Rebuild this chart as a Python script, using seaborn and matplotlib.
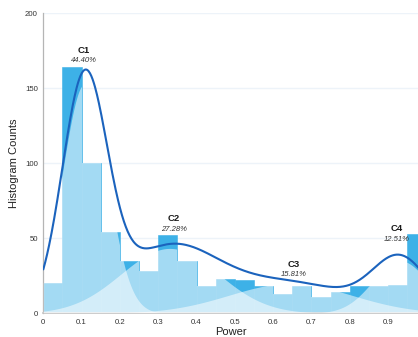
import numpy as np
import matplotlib
matplotlib.use("Agg")
import matplotlib.pyplot as plt
from matplotlib.patches import Polygon
import seaborn as sns

# Histogram of the power values (bin edges and counts per bin)
bin_edges = [0.0, 0.05, 0.1, 0.15, 0.2, 0.25, 0.3, 0.35, 0.4, 0.45, 0.5,
             0.55, 0.6, 0.65, 0.7, 0.75, 0.8, 0.85, 0.9, 0.95, 1.0]
counts = [20, 164, 100, 54, 35, 28, 52, 35, 18, 23,
          22, 18, 13, 18, 11, 14, 18, 18, 19, 53]

# Fitted mixture components
components = ["C1", "C2", "C3", "C4"]
weights_pct = [44.40, 27.28, 15.81, 12.51]
means = [0.108, 0.33, 0.645, 0.932]
sds = [0.0585, 0.127, 0.16, 0.072]
counts_per_density = 50.5  # converts a probability density to histogram counts

x_ticks = [0, 0.1, 0.2, 0.3, 0.4, 0.5, 0.6, 0.7, 0.8, 0.9]
x_tick_labels = ["0", "0.1", "0.2", "0.3", "0.4", "0.5", "0.6", "0.7", "0.8", "0.9"]
y_ticks = [0, 50, 100, 150, 200]

# annotation anchors (x, name y, percentage y)
label_x = [0.106, 0.34, 0.655, 0.923]
label_name_y = [175.5, 63, 32.7, 56.7]
label_pct_y = [168.5, 56, 26, 49.3]

BAR = "#3db1e7"
LINE = "#1b63bd"

sns.set_style("white")
plt.rcParams["font.family"] = ["Liberation Sans", "DejaVu Sans"]

fig = plt.figure(figsize=(4.18, 3.37), dpi=100)
ax = fig.add_axes([0.1036, 0.0703, 0.9163, 0.890])

centers = [(a + b) / 2 for a, b in zip(bin_edges[:-1], bin_edges[1:])]
sns.histplot(x=centers, weights=counts, bins=bin_edges, color=BAR, alpha=1,
             edgecolor=BAR, linewidth=0.4, ax=ax, zorder=2)

# outline of the histogram, used to keep the component shading inside the bars
outline = [(bin_edges[0], 0)]
for i, c in enumerate(counts):
    outline += [(bin_edges[i], c), (bin_edges[i + 1], c)]
outline += [(bin_edges[-1], 0)]
clip = Polygon(outline, closed=True, transform=ax.transData, facecolor="none",
               edgecolor="none")
ax.add_patch(clip)

xs = np.linspace(0, 1, 600)
mixture = np.zeros_like(xs)
for w, m, s in zip(weights_pct, means, sds):
    dens = np.exp(-0.5 * ((xs - m) / s) ** 2) / (s * np.sqrt(2 * np.pi))
    comp = counts_per_density * (w / 100.0) * dens
    mixture += comp
    fill = ax.fill_between(xs, 0, comp, color="white", alpha=0.53,
                           linewidth=0, zorder=3)
    fill.set_clip_path(clip)

sns.lineplot(x=xs, y=mixture, color=LINE, linewidth=1.5, ax=ax, zorder=4)

for name, w, lx, ny, py in zip(components, weights_pct, label_x,
                               label_name_y, label_pct_y):
    ax.text(lx, ny, name, ha="center", va="center", fontsize=6.8,
            fontweight="bold", color="#1a1a1a", zorder=5)
    ax.text(lx, py, f"{w:.2f}%", ha="center", va="center", fontsize=5.5,
            style="italic", color="#333333", zorder=5)

ax.set_xlim(0, 1)
ax.set_ylim(0, 200)
ax.set_xticks(x_ticks)
ax.set_xticklabels(x_tick_labels)
ax.set_yticks(y_ticks)
ax.yaxis.grid(True, color="#edf3f9", linewidth=1)
ax.xaxis.grid(False)
ax.set_axisbelow(True)

for side in ["top", "right"]:
    ax.spines[side].set_visible(False)
ax.spines["left"].set_color("#b5b5b5")
ax.spines["left"].set_linewidth(0.9)
ax.spines["bottom"].set_color("#c4c4c4")
ax.spines["bottom"].set_linewidth(1.2)

ax.tick_params(axis="both", direction="out", length=2.5, width=0.7,
               color="#999999", labelsize=5.6, labelcolor="#333333", pad=1.5)

ax.set_xlabel("Power", fontsize=8, color="#222222")
ax.set_ylabel("Histogram Counts", fontsize=8, color="#222222", labelpad=4)
ax.xaxis.set_label_coords(0.489, -0.045)

fig.savefig("out.png", dpi=100)
